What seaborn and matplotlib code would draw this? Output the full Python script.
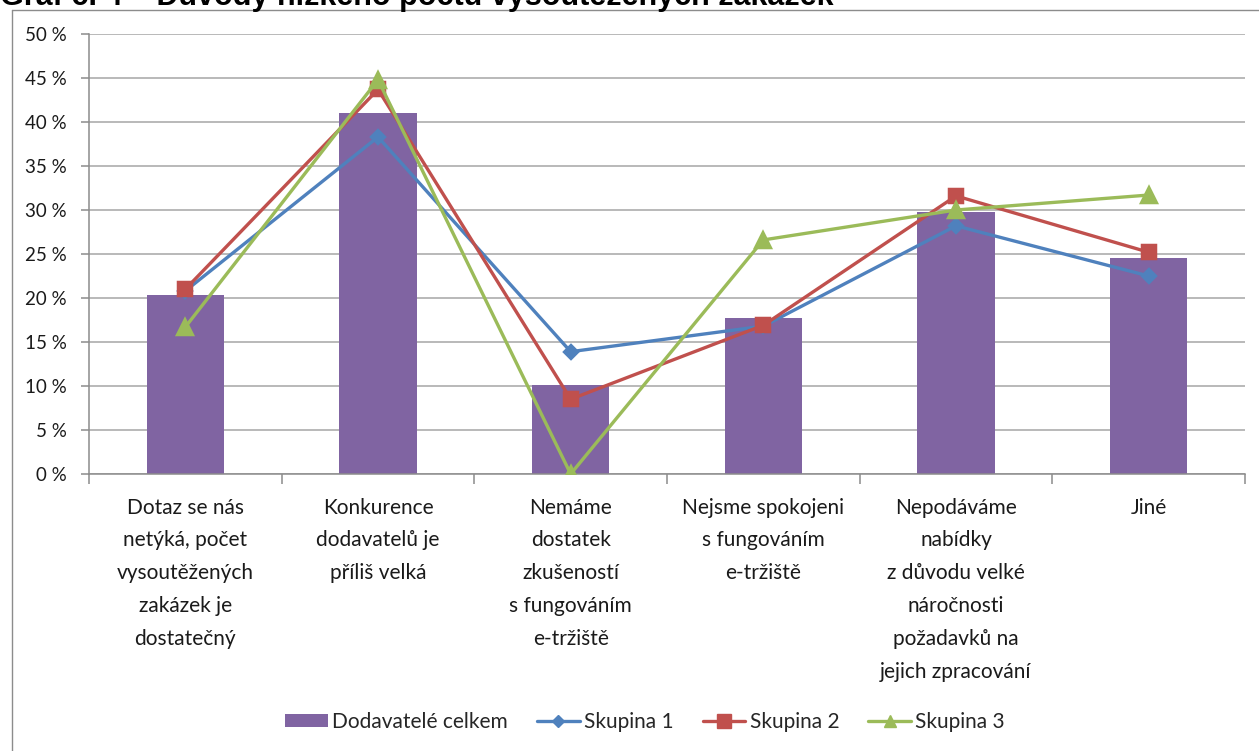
import matplotlib
matplotlib.use("Agg")
import matplotlib.pyplot as plt
from matplotlib.patches import Patch
from matplotlib.lines import Line2D
from matplotlib.ticker import FuncFormatter, MultipleLocator, FixedLocator
import seaborn as sns
import pandas as pd

categories = [
    "Dotaz se nás\nnetýká, počet\nvysoutěžených\nzakázek je\ndostatečný",
    "Konkurence\ndodavatelů je\npříliš velká",
    "Nemáme\ndostatek\nzkušeností\ns fungováním\ne-tržiště",
    "Nejsme spokojeni\ns fungováním\ne-tržiště",
    "Nepodáváme\nnabídky\nz důvodu velké\nnáročnosti\npožadavků na\njejich zpracování",
    "Jiné",
]
dodavatele_celkem = [20.3, 41.0, 10.1, 17.7, 29.8, 24.5]
skupina_1 = [20.8, 38.3, 13.9, 16.8, 28.2, 22.5]
skupina_2 = [21.0, 43.7, 8.5, 16.9, 31.6, 25.2]
skupina_3 = [16.7, 44.8, 0.0, 26.6, 30.0, 31.7]
series_names = ["Skupina 1", "Skupina 2", "Skupina 3"]
bar_name = "Dodavatelé celkem"
title_text = "Graf č. 4 – Důvody nízkého počtu vysoutěžených zakázek"

sns.set_theme(style="white")
plt.rcParams["font.family"] = ["Lato", "DejaVu Sans"]

W, H = 1259, 751
fig = plt.figure(figsize=(W / 100, H / 100), dpi=100)
ax = fig.add_axes([89 / W, 1 - 474 / H, (1245 - 89) / W, (474 - 34) / H])

purple = "#8064A2"
colors = ["#4F81BD", "#C0504D", "#9BBB59"]
markers = ["D", "s", "^"]
msizes = [7, 10, 11]
leg_msizes = [6, 10, 9]
grid_c = "#A6A6A6"

df_bar = pd.DataFrame({"cat": categories, "val": dodavatele_celkem})
sns.barplot(data=df_bar, x="cat", y="val", order=categories, color=purple,
            saturation=1, width=0.4, ax=ax, zorder=2, linewidth=0)

for name, vals, c, m, ms in zip(series_names, [skupina_1, skupina_2, skupina_3],
                                colors, markers, msizes):
    d = pd.DataFrame({"cat": categories, "val": vals})
    sns.pointplot(data=d, x="cat", y="val", order=categories, color=c,
                  marker=m, markersize=ms, linewidth=2.4, ax=ax, errorbar=None,
                  zorder=3)

ax.set_xlim(-0.5, 5.5)
ax.set_ylim(0, 50)
ax.yaxis.set_major_locator(MultipleLocator(5))
ax.yaxis.set_major_formatter(FuncFormatter(lambda v, p: f"{int(round(v))} %"))
ax.grid(axis="y", color=grid_c, linewidth=1.1, zorder=0)
ax.set_axisbelow(True)
ax.set_xlabel("")
ax.set_ylabel("")

for s in ["top", "right"]:
    ax.spines[s].set_visible(False)
for s in ["left", "bottom"]:
    ax.spines[s].set_color("#8C8C8C")
    ax.spines[s].set_linewidth(1.1)

ax.tick_params(axis="y", which="major", left=True, length=6, width=1.1,
               color="#8C8C8C", labelsize=13.5, labelcolor="#1a1a1a", pad=10)
ax.set_xticks(range(len(categories)))
ax.set_xticklabels(categories, fontsize=15, color="#1a1a1a", linespacing=1.8,
                   va="top", ha="center")
ax.tick_params(axis="x", which="major", bottom=False, length=0, pad=17)
ax.xaxis.set_minor_locator(FixedLocator([i - 0.5 for i in range(len(categories) + 1)]))
ax.tick_params(axis="x", which="minor", bottom=True, length=7, width=1.1,
               color="#8C8C8C")

handles = [Patch(facecolor=purple, edgecolor="none", label=bar_name)]
for name, c, m, ms in zip(series_names, colors, markers, leg_msizes):
    handles.append(Line2D([0], [0], color=c, marker=m, markersize=ms,
                          linewidth=2.4, label=name))
fig.legend(handles=handles, loc="center", bbox_to_anchor=(645 / W, 1 - 722 / H),
           ncol=4, frameon=False, fontsize=15, handlelength=2.05,
           handleheight=0.55, handletextpad=0.2, columnspacing=1.4)

# chart frame (cropped on right and bottom)
fig.add_artist(Line2D([12 / W, 12 / W], [1 - 10 / H, 0], color="#8C8C8C",
                      linewidth=1.0, transform=fig.transFigure))
fig.add_artist(Line2D([12 / W, 1], [1 - 10 / H, 1 - 10 / H], color="#8C8C8C",
                      linewidth=1.0, transform=fig.transFigure))

fig.text(0 / W, 1 - 5 / H, title_text, fontsize=22, fontweight="bold",
         family=["Liberation Sans", "DejaVu Sans"], ha="left", va="baseline",
         color="black")

fig.savefig("out.png", dpi=100)
